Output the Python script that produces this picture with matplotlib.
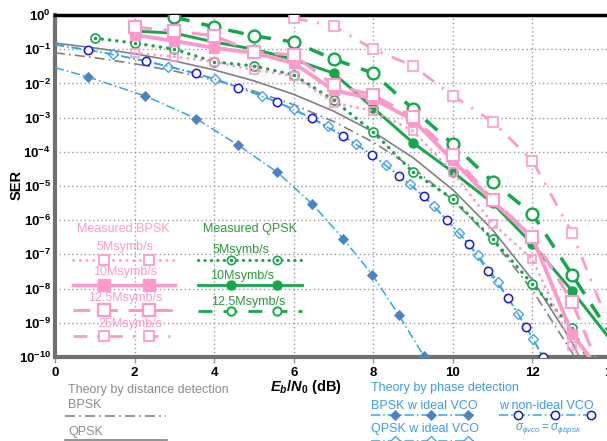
import numpy as np
import matplotlib
matplotlib.use('Agg')
import matplotlib.pyplot as plt
from matplotlib.lines import Line2D

plt.rcParams['font.family'] = 'Liberation Sans'
plt.rcParams['mathtext.fontset'] = 'custom'
plt.rcParams['mathtext.rm'] = 'Liberation Sans'
plt.rcParams['mathtext.it'] = 'Liberation Sans:italic'
plt.rcParams['mathtext.bf'] = 'Liberation Sans:bold'
plt.rcParams['mathtext.bfit'] = 'Liberation Sans:italic:bold'

# ---- data (log10 of SER unless noted) ----
snr_theory = [0, 1, 2, 3, 4, 5, 6, 7, 8, 9, 10, 11, 12, 13, 14]
bpsk_dist = [0.0786, 0.0563, 0.0375, 0.0229, 0.0125, 0.00595, 0.00239, 7.73e-4,
             1.91e-4, 3.36e-5, 3.87e-6, 2.61e-7, 9.0e-9, 1.33e-10, 6.8e-13]
qpsk_dist = [0.151, 0.109, 0.0736, 0.0453, 0.0248, 0.0119, 0.00478, 1.55e-3,
             3.82e-4, 6.72e-5, 7.74e-6, 5.22e-7, 1.8e-8, 2.66e-10, 1.36e-12]

# phase detection theory (first / last entries are line ends without marker)
bpsk_ph_x = [0, 0.83, 2.27, 3.55, 4.6, 5.59, 6.47, 7.25, 7.98, 8.64, 9.27, 9.5]
bpsk_ph_y = [-1.54, -1.81, -2.37, -3.03, -3.8, -4.6, -5.53, -6.55, -7.6, -8.77, -9.97, -10.5]
qpsk_ph_x = [0, 1.45, 2.85, 4.03, 5.2, 6.0, 6.85, 7.56, 8.33, 8.92, 9.52, 10.15,
             10.63, 11.13, 11.64, 12.02, 12.3]
qpsk_ph_y = [-0.87, -1.14, -1.51, -1.87, -2.36, -2.75, -3.25, -3.77, -4.4, -4.94,
             -5.58, -6.37, -7.02, -7.8, -8.74, -9.47, -10.1]
nonideal_x = [0, 0.83, 2.29, 3.55, 4.61, 5.59, 6.45, 7.23, 7.98, 8.64, 9.27, 9.85,
              10.4, 10.88, 11.39, 11.84, 12.27]
nonideal_y = [-0.87, -1.02, -1.34, -1.7, -2.12, -2.55, -3.02, -3.53, -4.09, -4.7,
              -5.3, -6.0, -6.7, -7.49, -8.27, -9.12, -10.0]

# measured BPSK
b5_x = [2, 3, 4, 5, 6, 7, 8, 9, 10, 11, 12, 13, 13.3]
b5_y = [-1.11, -1.22, -1.37, -1.61, -1.78, -2.57, -2.8, -3.39, -4.6, -6.1, -7.14, -9.68, -10.2]
b10_x = [2, 3, 4, 5, 6, 7, 8, 9, 10, 11, 12, 13, 13.5]
b10_y = [-0.58, -0.76, -0.96, -1.11, -1.4, -2.2, -2.45, -3.07, -4.25, -5.45, -6.5, -9.33, -10.1]
b125_x = [2, 3, 4, 5, 6, 7, 8, 9, 10, 11, 12, 13, 13.6]
b125_y = [-0.35, -0.47, -0.61, -1.08, -1.17, -2.05, -2.34, -2.98, -4.09, -5.4, -6.48, -8.39, -10.1]
b25_x = [6, 7, 8, 9, 10, 11, 12, 13, 13.8]
b25_y = [-0.09, -0.32, -1.0, -1.49, -2.36, -3.12, -4.26, -6.38, -8.7]

# measured QPSK
q5_x = [1, 2, 3, 4, 5, 6, 7, 8, 9, 10, 11, 12, 13, 13.4]
q5_y = [-0.68, -0.82, -1.0, -1.37, -1.49, -1.75, -2.49, -3.42, -4.6, -5.38, -6.55, -7.87, -9.15, -10.1]
q10_x = [2, 3, 4, 5, 6, 7, 8, 9, 10, 11, 12, 13, 14]
q10_y = [-0.47, -0.53, -0.79, -1.0, -1.3, -1.7, -2.72, -3.74, -4.59, -5.5, -6.7, -8.07, -9.55]
q125_x = [3, 4, 5, 6, 7, 8, 9, 10, 11, 12, 13, 14]
q125_y = [-0.06, -0.35, -0.61, -0.79, -1.29, -1.7, -2.75, -3.77, -4.88, -5.82, -7.6, -9.4]

ytick_exp = [0, -1, -2, -3, -4, -5, -6, -7, -8, -9, -10]
xticks = [0, 2, 4, 6, 8, 10, 12, 14]

pink = '#FF99CC'
green = '#14A84B'
lgreen_txt = '#2A9A3A'
lblue = '#2AAAE2'
mblue = '#3F86D8'
oblue = '#4AA0F0'
dblue = '#1515E6'
gray = '#808080'

W, H = 607, 441
fig = plt.figure(figsize=(W / 100, H / 100), dpi=100)
ax = fig.add_axes([55 / W, 1 - 357 / H, (612 - 55) / W, (357 - 15) / H])


def p(v):
    return 10.0 ** np.array(v)


# theory by distance detection
ax.plot(snr_theory, bpsk_dist, color=gray, lw=1.2, ls=(0, (6, 2.5, 1, 2.5)), zorder=3)
ax.plot(snr_theory, qpsk_dist, color=gray, lw=1.2, ls='-', zorder=3)

# theory by phase detection
dashdot = (0, (6, 2, 1, 2))
ax.plot(bpsk_ph_x, p(bpsk_ph_y), color=lblue, lw=1.1, ls=dashdot, marker='D', ms=5.5,
        mfc=mblue, mec='#6F7F90', mew=0.6, markevery=list(range(1, 11)), zorder=4)
ax.plot(qpsk_ph_x, p(qpsk_ph_y), color=lblue, lw=1.1, ls=dashdot, marker='D', ms=5.5,
        mfc='white', mec=oblue, mew=1.0, markevery=list(range(1, 16)), zorder=4)
ax.plot(nonideal_x, p(nonideal_y), color=lblue, lw=1.1, ls=dashdot, marker='o', ms=6,
        mfc='white', mec=dblue, mew=1.1, markevery=list(range(1, 17)), zorder=4)

# measured QPSK
ax.plot(q5_x, p(q5_y), color=green, lw=2.4, ls=(0, (0.1, 2.1)), dash_capstyle='round',
        marker='o', ms=6.5, mfc='white', mec=green, mew=1.2, markevery=list(range(13)), zorder=5)
ax.plot(q5_x[:13], p(q5_y[:13]), ls='none', marker='.', ms=3, color=green, zorder=6)
ax.plot(q10_x, p(q10_y), color=green, lw=2.1, ls='-', marker='o', ms=6.5,
        mfc=green, mec=green, markevery=list(range(12)), zorder=5)
ax.plot(q125_x, p(q125_y), color=green, lw=2.5, ls=(0, (4.5, 3.5)), marker='o', ms=8.5,
        mfc='white', mec=green, mew=1.7, markevery=list(range(11)), zorder=5)

# measured BPSK
ax.plot(b5_x, p(b5_y), color=pink, lw=2.0, ls=(0, (0.1, 2.3)), dash_capstyle='round',
        marker='s', ms=6, mfc='none', mec=pink, mew=1.2, markevery=list(range(12)), zorder=5)
ax.plot(b10_x, p(b10_y), color=pink, lw=2.8, ls='-', marker='s', ms=7,
        mfc=pink, mec=pink, markevery=list(range(12)), zorder=6)
ax.plot(b125_x, p(b125_y), color=pink, lw=2.3, ls=(0, (5.5, 3.5)), marker='s', ms=8.5,
        mfc='white', mec=pink, mew=1.5, markevery=list(range(12)), zorder=6)
ax.plot(b25_x, p(b25_y), color=pink, lw=2.0, ls=(0, (5, 3.5, 0.8, 3.5)), marker='s', ms=7,
        mfc='white', mec=pink, mew=1.2, markevery=list(range(8)), zorder=5)

ax.set_yscale('log')
ax.set_xlim(0, 14)
ax.set_ylim(1e-10, 1)
ax.set_yticks(p(ytick_exp))
ax.set_yticklabels([r'$\mathbf{10^{%d}}$' % e for e in ytick_exp], fontsize=9.5)
ax.yaxis.set_minor_locator(matplotlib.ticker.NullLocator())
ax.set_xticks(xticks)
ax.set_xticklabels([str(t) for t in xticks], fontsize=9.5, fontweight='bold')
ax.tick_params(axis='x', direction='out', length=4, width=1, color='#999999', pad=3)
ax.tick_params(axis='y', length=0, pad=3)
ax.grid(True, ls=(0, (1, 2)), color='#9A9A9A', lw=1)
ax.set_axisbelow(True)
ax.spines['left'].set_color('#707070')
ax.spines['left'].set_linewidth(3)
ax.spines['bottom'].set_color('#707070')
ax.spines['bottom'].set_linewidth(3)
ax.spines['top'].set_color('black')
ax.spines['top'].set_linewidth(2.5)
ax.spines['right'].set_visible(False)

# axis titles
fig.text(306 / W, 1 - 387 / H, r'$\mathbfit{E}_{\mathbfit{b}}\mathbf{/}\mathbfit{N}_{\mathbf{0}}$ (dB)',
         ha='center', va='center', fontsize=10.5, fontweight='bold')
fig.text(17 / W, 1 - 185 / H, 'SER', ha='center', va='center', rotation=90,
         fontsize=10.5, fontweight='bold')


# hand-made legends (pixel positions)
def ftxt(x, y, s, **kw):
    fig.text(x / W, 1 - y / H, s, **kw)


def fline(x1, x2, y, **kw):
    fig.add_artist(Line2D([x1 / W, x2 / W], [1 - y / H, 1 - y / H],
                          transform=fig.transFigure, **kw))


def fmark(xs, y, **kw):
    fig.add_artist(Line2D([x / W for x in xs], [1 - y / H] * len(xs), ls='none',
                          transform=fig.transFigure, **kw))


fs = 9
ftxt(123, 229, 'Measured BPSK', ha='center', va='center', color=pink, fontsize=fs)
ftxt(125, 247, '5Msymb/s', ha='center', va='center', color=pink, fontsize=fs)
fline(73, 175, 260, color=pink, lw=2.0, ls=(0, (0.1, 2.3)), dash_capstyle='round')
fmark([104, 149], 260, marker='s', ms=7, mfc='white', mec=pink, mew=1.3)
ftxt(125, 272, '10Msymb/s', ha='center', va='center', color=pink, fontsize=fs)
fline(73, 175, 285, color=pink, lw=2.5)
fmark([104, 149], 285, marker='s', ms=8, mfc=pink, mec=pink)
ftxt(125, 298, '12.5Msymb/s', ha='center', va='center', color=pink, fontsize=fs)
fline(73, 175, 310, color=pink, lw=2.2, ls=(0, (5.5, 3.5)))
fmark([104, 149], 310, marker='s', ms=8, mfc='white', mec=pink, mew=1.6)
ftxt(130, 324, '25Msymb/s', ha='center', va='center', color=pink, fontsize=fs)
fline(73, 175, 336, color=pink, lw=2.0, ls=(0, (5, 3.5, 0.8, 3.5)))
fmark([104, 149], 336, marker='s', ms=7.5, mfc='white', mec=pink, mew=1.3)

ftxt(250, 229, 'Measured QPSK', ha='center', va='center', color=lgreen_txt, fontsize=fs)
ftxt(241, 250, '5Msymb/s', ha='center', va='center', color=lgreen_txt, fontsize=fs)
fline(198, 302, 260, color=green, lw=2.2, ls=(0, (0.1, 2)), dash_capstyle='round')
fmark([231, 277], 260, marker='o', ms=6, mfc='white', mec=green, mew=1.2)
fmark([231, 277], 260, marker='.', ms=3, color=green)
ftxt(242, 276, '10Msymb/s', ha='center', va='center', color=lgreen_txt, fontsize=fs)
fline(198, 302, 285, color=green, lw=2)
fmark([231, 277], 285, marker='o', ms=6.5, mfc=green, mec=green)
ftxt(248, 302, '12.5Msymb/s', ha='center', va='center', color=lgreen_txt, fontsize=fs)
fline(198, 302, 311, color=green, lw=2, ls=(0, (5, 4)))
fmark([231, 277], 311, marker='o', ms=6, mfc='white', mec=green, mew=1.4)

ftxt(68, 390, 'Theory by distance detection', ha='left', va='center', color='#8C8C8C', fontsize=fs)
ftxt(68, 405, 'BPSK', ha='left', va='center', color='#8C8C8C', fontsize=fs)
fline(65, 166, 416, color=gray, lw=1.2, ls=(0, (6, 2.5, 1, 2.5)))
ftxt(68, 432, 'QPSK', ha='left', va='center', color='#8C8C8C', fontsize=fs)
fline(65, 167, 440, color=gray, lw=1.2)

ptxt = '#3D9BE9'
ftxt(371, 388, 'Theory by phase detection', ha='left', va='center', color=ptxt, fontsize=fs)
ftxt(371, 406, 'BPSK w ideal VCO', ha='left', va='center', color=ptxt, fontsize=fs)
fline(371, 474, 415, color=lblue, lw=1.1, ls=dashdot)
fmark([395, 431, 468], 415, marker='D', ms=5.5, mfc=mblue, mec='#6F7F90', mew=0.6)
ftxt(499, 406, 'w non-ideal VCO', ha='left', va='center', color=ptxt, fontsize=fs)
fline(499, 595, 415, color=lblue, lw=1.1, ls=dashdot)
fmark([518, 555, 591], 415, marker='o', ms=6, mfc='white', mec=dblue, mew=1.1)
ftxt(371, 429, 'QPSK w ideal VCO', ha='left', va='center', color=ptxt, fontsize=fs)
fline(371, 474, 441, color=lblue, lw=1.1, ls=dashdot)
fmark([395, 431, 468], 441, marker='D', ms=5.5, mfc='white', mec=oblue, mew=1.0)
ftxt(548, 429, r'$\sigma_{\phi vco}=\sigma_{\phi bpsk}$', ha='center', va='center',
     color=ptxt, fontsize=8.5)

fig.savefig('out.png', dpi=100)
